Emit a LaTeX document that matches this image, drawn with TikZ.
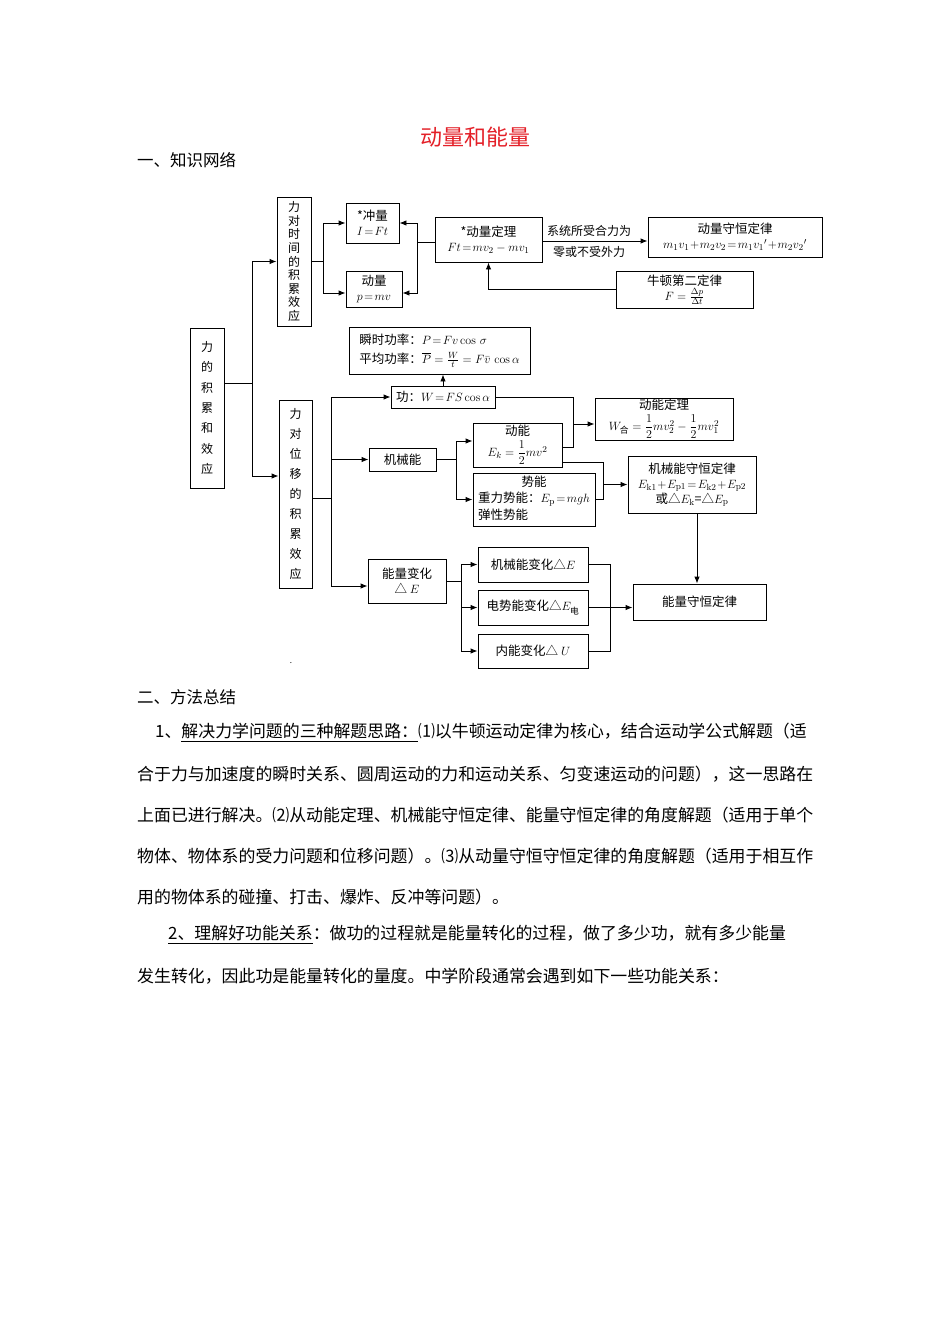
\documentclass[tikz,border=0pt]{standalone}
\usepackage{amsmath}
\usepackage[no-math]{fontspec}
\setmainfont{Noto Sans CJK SC}
\usetikzlibrary{arrows.meta}
\definecolor{titlered}{RGB}{228,32,40}
\tikzset{
  box/.style={draw, line width=0.9pt, inner sep=0pt, align=center, font=\fontsize{12.5}{15}\selectfont},
  vbox/.style={box, font=\fontsize{12}{#1}\selectfont},
  conn/.style={line width=0.9pt},
  arr/.style={conn, -{Latex[length=7pt,width=5.5pt]}},
  lbl/.style={font=\fontsize{12}{14}\selectfont, inner sep=0pt},
  para/.style={anchor=west, inner sep=0pt, font=\fontsize{16.9}{20}\selectfont},
  head/.style={anchor=west, inner sep=0pt, font=\fontsize{16.5}{20}\selectfont},
}
\begin{document}
\begin{tikzpicture}[x=1pt,y=-1pt]
\fill[white] (0,0) rectangle (950,1344);
\useasboundingbox (0,0) rectangle (950,1344);

% headings
\node[inner sep=0pt, font=\fontsize{22}{24}\selectfont, text=titlered] (title) at (475,137) {动量和能量};
\node[head] (h1) at (137,160) {一、知识网络};

% boxes
\node[vbox=20.3, minimum width=34, minimum height=160] (A) at (207,408) {力\\的\\积\\累\\和\\效\\应};
\node[vbox=13.6, minimum width=34, minimum height=129] (B) at (294,261.5) {力\\对\\时\\间\\的\\积\\累\\效\\应};
\node[vbox=20.1, minimum width=33, minimum height=188] (C) at (295.5,494) {力\\对\\位\\移\\的\\积\\累\\效\\应};

\node[box, minimum width=53, minimum height=40] (D) at (372.5,223) {*冲量\\$I\!=\!Ft$};
\node[box, minimum width=56, minimum height=36] (E) at (374,289) {动量\\$p\!=\!mv$};
\node[box, minimum width=107, minimum height=45] (F) at (488.5,239.5) {*动量定理\\$Ft\!=\!mv_2-mv_1$};
\node[box, minimum width=174, minimum height=40] (G) at (735,237) {动量守恒定律\\$m_1v_1\!+\!m_2v_2\!=\!m_1v_1{}'\!+\!m_2v_2{}'$};
\node[box, minimum width=137, minimum height=37] (H) at (684.5,289.5) {牛顿第二定律\\$F=\frac{\Delta p}{\Delta t}$};
\node[lbl] (lab1) at (589,231) {系统所受合力为};
\node[lbl] (lab2) at (589,252) {零或不受外力};

\node[box, minimum width=181, minimum height=47, align=left] (I) at (439.5,350.5) {瞬时功率：$P\!=\!Fv\cos\,\sigma$\\[4pt]平均功率：$\overline{P}=\frac{W}{t}=F\bar{v}\,\cos\alpha$};
\node[box, minimum width=104, minimum height=22] (J) at (443,397) {功：$W\!=\!FS\cos\alpha$};
\node[box, minimum width=67, minimum height=23] (K) at (402.5,459.5) {机械能};
\node[box, minimum width=89, minimum height=44] (M) at (517.5,445) {动能\\[3pt]$E_k=\dfrac{1}{2}mv^2$};
\node[box, minimum width=122, minimum height=53] (N) at (534,499.5) {\renewcommand\arraystretch{1.1}\begin{tabular}{@{}l@{}}\multicolumn{1}{@{}c@{}}{势能}\\重力势能：$E_{\mathrm p}\!=\!mgh$\\弹性势能\end{tabular}};
\node[box, minimum width=138, minimum height=42] (O) at (664,419) {动能定理\\[3pt]$W_{\text{合}}=\dfrac{1}{2}mv_2^2-\dfrac{1}{2}mv_1^2$};
\node[box, minimum width=128, minimum height=57] (P) at (692,484.5) {机械能守恒定律\\$E_{\mathrm{k}1}\!+\!E_{\mathrm{p}1}\!=\!E_{\mathrm{k}2}\!+\!E_{\mathrm{p}2}$\\或△$E_{\mathrm k}$=△$E_{\mathrm p}$};
\node[box, minimum width=78, minimum height=44] (L) at (407,581) {能量变化\\△ $E$};
\node[box, minimum width=110, minimum height=35] (R) at (533,564.5) {机械能变化△$E$};
\node[box, minimum width=110, minimum height=35] (S) at (533,607.5) {电势能变化△$E_{\text{电}}$};
\node[box, minimum width=110, minimum height=34] (T) at (533,651) {内能变化△ $U$};
\node[box, minimum width=133, minimum height=36] (Q) at (699.5,602) {能量守恒定律};
\node[inner sep=0pt, font=\fontsize{8}{8}\selectfont] (dot) at (291,663) {.};

% connectors
\coordinate (a) at (252,383);
\draw[conn] (A.east|-a) -- (a);
\draw[arr] (a) |- (B.west);
\draw[arr] (a) |- ([yshift=18pt]C.west);

\coordinate (b) at (323,0);
\draw[conn] (B.east) -- (b|-B.east);
\draw[arr] (b|-B.east) |- (D.west);
\draw[arr] (b|-B.east) |- ([yshift=-4pt]E.west);

\coordinate (f) at (417,242);
\draw[conn] (F.west|-f) -- (f);
\draw[arr] (f) |- (D.east);
\draw[arr] (f) |- ([yshift=-4pt]E.east);

\coordinate (fg) at (0,241);
\draw[arr] (F.east|-fg) -- (G.west|-fg);
\draw[arr] (H.west) -| (F.south);

\draw[arr] (J.north) -- (J.north|-I.south);

\coordinate (cj) at (331,498);
\draw[conn] (C.east|-cj) -- (cj);
\draw[arr] (cj) |- (J.west);
\draw[arr] (cj) |- (K.west);
\draw[arr] (cj) |- ([yshift=-5pt]L.west);

\coordinate (k) at (456,0);
\draw[conn] (K.east) -- (k|-K.east);
\draw[arr] (k|-K.east) |- ([yshift=4pt]M.west);
\draw[arr] (k|-K.east) |- (N.west);

\coordinate (jm) at (573,447);
\draw[conn] (J.east) -| (jm) -- (M.east|-jm);
\coordinate (jo) at (573,424);
\draw[arr] (jo) -- (O.west|-jo);

\coordinate (mp) at (603,462);
\draw[conn] (M.east|-mp) -- (mp) |- (N.east);
\draw[arr] (mp|-P.west) -- (P.west);

\draw[arr] ([xshift=5pt]P.south) -- ([xshift=5pt]P.south|-Q.north);

\coordinate (l) at (461,0);
\draw[conn] (L.east) -- (l|-L.east);
\draw[arr] (l|-L.east) |- (R.west);
\draw[arr] (l|-L.east) |- (S.west);
\draw[arr] (l|-L.east) |- (T.west);

\coordinate (rt) at (610,0);
\draw[conn] (R.east) -| (rt|-T.east) -- (T.east);
\draw[arr] (S.east) -- (Q.west|-S.east);

% text
\node[head] (h2) at (137,697) {二、方法总结};
\node[para] (p1) at (155,733) {1、\underline{解决力学问题的三种解题思路：}⑴以牛顿运动定律为核心，结合运动学公式解题（适};
\node[para] (p2) at (137,774) {合于力与加速度的瞬时关系、圆周运动的力和运动关系、匀变速运动的问题），这一思路在};
\node[para] (p3) at (137,815) {上面已进行解决。⑵从动能定理、机械能守恒定律、能量守恒定律的角度解题（适用于单个};
\node[para] (p4) at (137,856) {物体、物体系的受力问题和位移问题）。⑶从动量守恒守恒定律的角度解题（适用于相互作};
\node[para] (p5) at (137,897) {用的物体系的碰撞、打击、爆炸、反冲等问题）。};
\node[para] (p6) at (168,935) {\underline{2、理解好功能关系}：做功的过程就是能量转化的过程，做了多少功，就有多少能量};
\node[para] (p7) at (137,976) {发生转化，因此功是能量转化的量度。中学阶段通常会遇到如下一些功能关系：};
\end{tikzpicture}
\end{document}
